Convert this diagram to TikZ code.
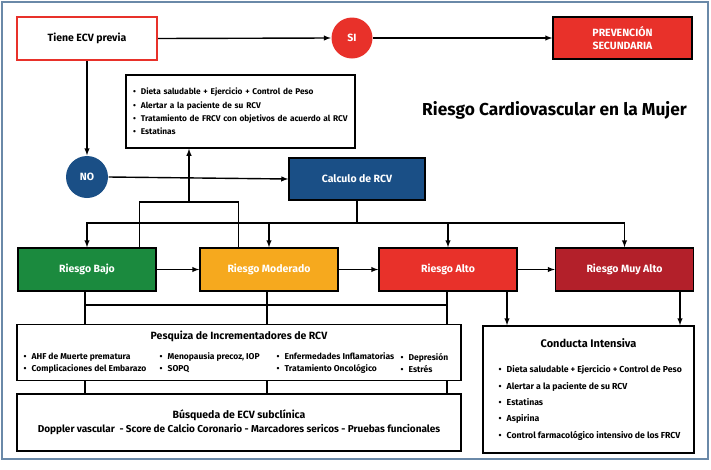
\documentclass[tikz,border=0pt]{standalone}
\usepackage{fontspec}
\setmainfont{Fira Sans}
\usetikzlibrary{arrows,positioning}
\definecolor{azul}{HTML}{1A4F86}
\definecolor{verde}{HTML}{1B8A3E}
\definecolor{naranja}{HTML}{F6A91E}
\definecolor{rojo}{HTML}{E8312A}
\definecolor{granate}{HTML}{B3202A}
\definecolor{marco}{HTML}{6A89A8}
\tikzstyle{caja}=[draw=black, line width=1.5pt, minimum width=138pt, minimum height=43pt, inner sep=2pt, text=white, font=\fontsize{10.5}{13}\selectfont\bfseries]
\tikzstyle{circulo}=[circle, minimum size=41pt, inner sep=0pt, text=white, font=\fontsize{10.5}{12}\selectfont\bfseries]
\tikzstyle{lista}=[draw=black, line width=1.5pt, align=left, inner xsep=7pt, font=\fontsize{8.3}{13.3}\selectfont\bfseries]
\tikzstyle{items}=[inner sep=0pt, align=left, anchor=west, font=\fontsize{8.5}{12}\selectfont\bfseries]
\tikzstyle{encabezado}=[inner sep=0pt, font=\fontsize{10.5}{13}\selectfont\bfseries]

\begin{document}
\begin{tikzpicture}[x=1pt, y=-1pt, >=latex, line width=1.4pt]
\useasboundingbox (0,0) rectangle (711,469);
\draw[draw=marco, line width=2pt] (1.5,1.5) rectangle (707.5,458.5);

% fila superior
\node[caja, draw=rojo, line width=2.2pt, fill=white, text=black, minimum width=140pt] (tiene) at (87,38.5) {Tiene ECV previa};
\node[circulo, fill=rojo] (si) at (352,38) {SI};
\node[caja, fill=rojo, align=center, minimum width=139pt, minimum height=42pt] (prev) at (622.5,38) {PREVENCIÓN\\SECUNDARIA};
\node[font=\fontsize{17.3}{20}\selectfont\bfseries] (titulo) at (554.5,110) {Riesgo Cardiovascular en la Mujer};

\node[lista, minimum width=229pt, minimum height=73pt, text width=215pt] (recs) at (240.5,111.5) {%
•\hspace{5pt}Dieta saludable + Ejercicio + Control de Peso\\
•\hspace{5pt}Alertar a la paciente de su RCV\\
•\hspace{5pt}Tratamiento de FRCV con objetivos de acuerdo al RCV\\
•\hspace{5pt}Estatinas};

% calculo
\node[circulo, fill=azul, minimum size=42pt] (no) at (87,177) {NO};
\node[caja, fill=azul, minimum width=136pt, minimum height=42pt] (calc) at (357,179) {Calculo de RCV};

% niveles de riesgo
\node[caja, fill=verde] (bajo) at (87,269.5) {Riesgo Bajo};
\node[caja, fill=naranja] (mod) at (269,269.5) {Riesgo Moderado};
\node[caja, fill=rojo] (alto) at (448,269.5) {Riesgo Alto};
\node[caja, fill=granate] (muy) at (624.5,269.5) {Riesgo Muy Alto};

% pesquisa y busqueda
\node[caja, fill=white, minimum width=444pt, minimum height=56pt] (pesq) at (239,352.5) {};
\node[encabezado] (pesqt) at (239,336) {Pesquiza de Incrementadores de RCV};
\node[items] (p1) at (23,363) {•\hspace{5pt}AHF de Muerte prematura\\•\hspace{5pt}Complicaciones del Embarazo};
\node[items] (p2) at (159,363) {•\hspace{5pt}Menopausia precoz, IOP\\•\hspace{5pt}SOPQ};
\node[items] (p3) at (276,363) {•\hspace{5pt}Enfermedades Inflamatorias\\•\hspace{5pt}Tratamiento Oncológico};
\node[items] (p4) at (400,363) {•\hspace{5pt}Depresión\\•\hspace{5pt}Estrés};

\node[caja, fill=white, minimum width=444pt, minimum height=57pt, below=12pt of pesq] (busq) {};
\node[encabezado] (busqt) at (239,415) {Búsqueda de ECV subclínica};
\node[encabezado, font=\fontsize{10}{12}\selectfont\bfseries] (busqd) at (239,430) {Doppler vascular\ \ - Score de Calcio Coronario - Marcadores sericos - Pruebas funcionales};

% conducta intensiva
\node[caja, fill=white, minimum width=211pt, minimum height=127pt] (cond) at (588.5,389.5) {};
\node[encabezado, font=\fontsize{11}{13}\selectfont\bfseries] (condt) at (588.5,343) {Conducta Intensiva};
\node[items, font=\fontsize{8.7}{16.4}\selectfont\bfseries] (condl) at (498,403) {%
•\hspace{5pt}Dieta saludable + Ejercicio + Control de Peso\\
•\hspace{5pt}Alertar a la paciente de su RCV\\
•\hspace{5pt}Estatinas\\
•\hspace{5pt}Aspirina\\
•\hspace{5pt}Control farmacológico intensivo de los FRCV};

% conectores
\path[->]
(tiene.east) edge (si.west)
(si.east) edge (prev.west)
(tiene.south) edge (no.north)
(no.east) edge (calc.west)
(bajo.east) edge (mod.west)
(mod.east) edge (alto.west)
(alto.east) edge (muy.west);

\coordinate (reparto) at (357,223);
\draw (calc.south) -- (reparto);
\draw[->] (reparto) -| (bajo.north);
\draw[->] (reparto) -| (muy.north);
\draw[->] (reparto -| mod.north) -- (mod.north);
\draw[->] (reparto -| alto.north) -- (alto.north);

\coordinate (union) at (189,202);
\draw ([xshift=-17pt]bajo.north east) |- (union) -| ([xshift=39pt]mod.north west);
\draw[->] (union) -- (union |- recs.south);

\coordinate (b1) at (85,305);
\coordinate (b2) at (267,305);
\coordinate (b3) at (447,305);
\draw (b1) -- (b3);
\draw (bajo.south -| b1) -- (pesq.north -| b1);
\draw (mod.south -| b2) -- (pesq.north -| b2);
\draw (alto.south -| b3) -- (pesq.north -| b3);
\draw (pesq.south -| b1) -- (busq.north -| b1);
\draw (pesq.south -| b2) -- (busq.north -| b2);
\draw (pesq.south -| b3) -- (busq.north -| b3);

\coordinate (c1) at (507,300);
\coordinate (c2) at (680,300);
\draw[->] (alto.south -| c1) -- (cond.north -| c1);
\draw[->] (muy.south -| c2) -- (cond.north -| c2);
\end{tikzpicture}
\end{document}
